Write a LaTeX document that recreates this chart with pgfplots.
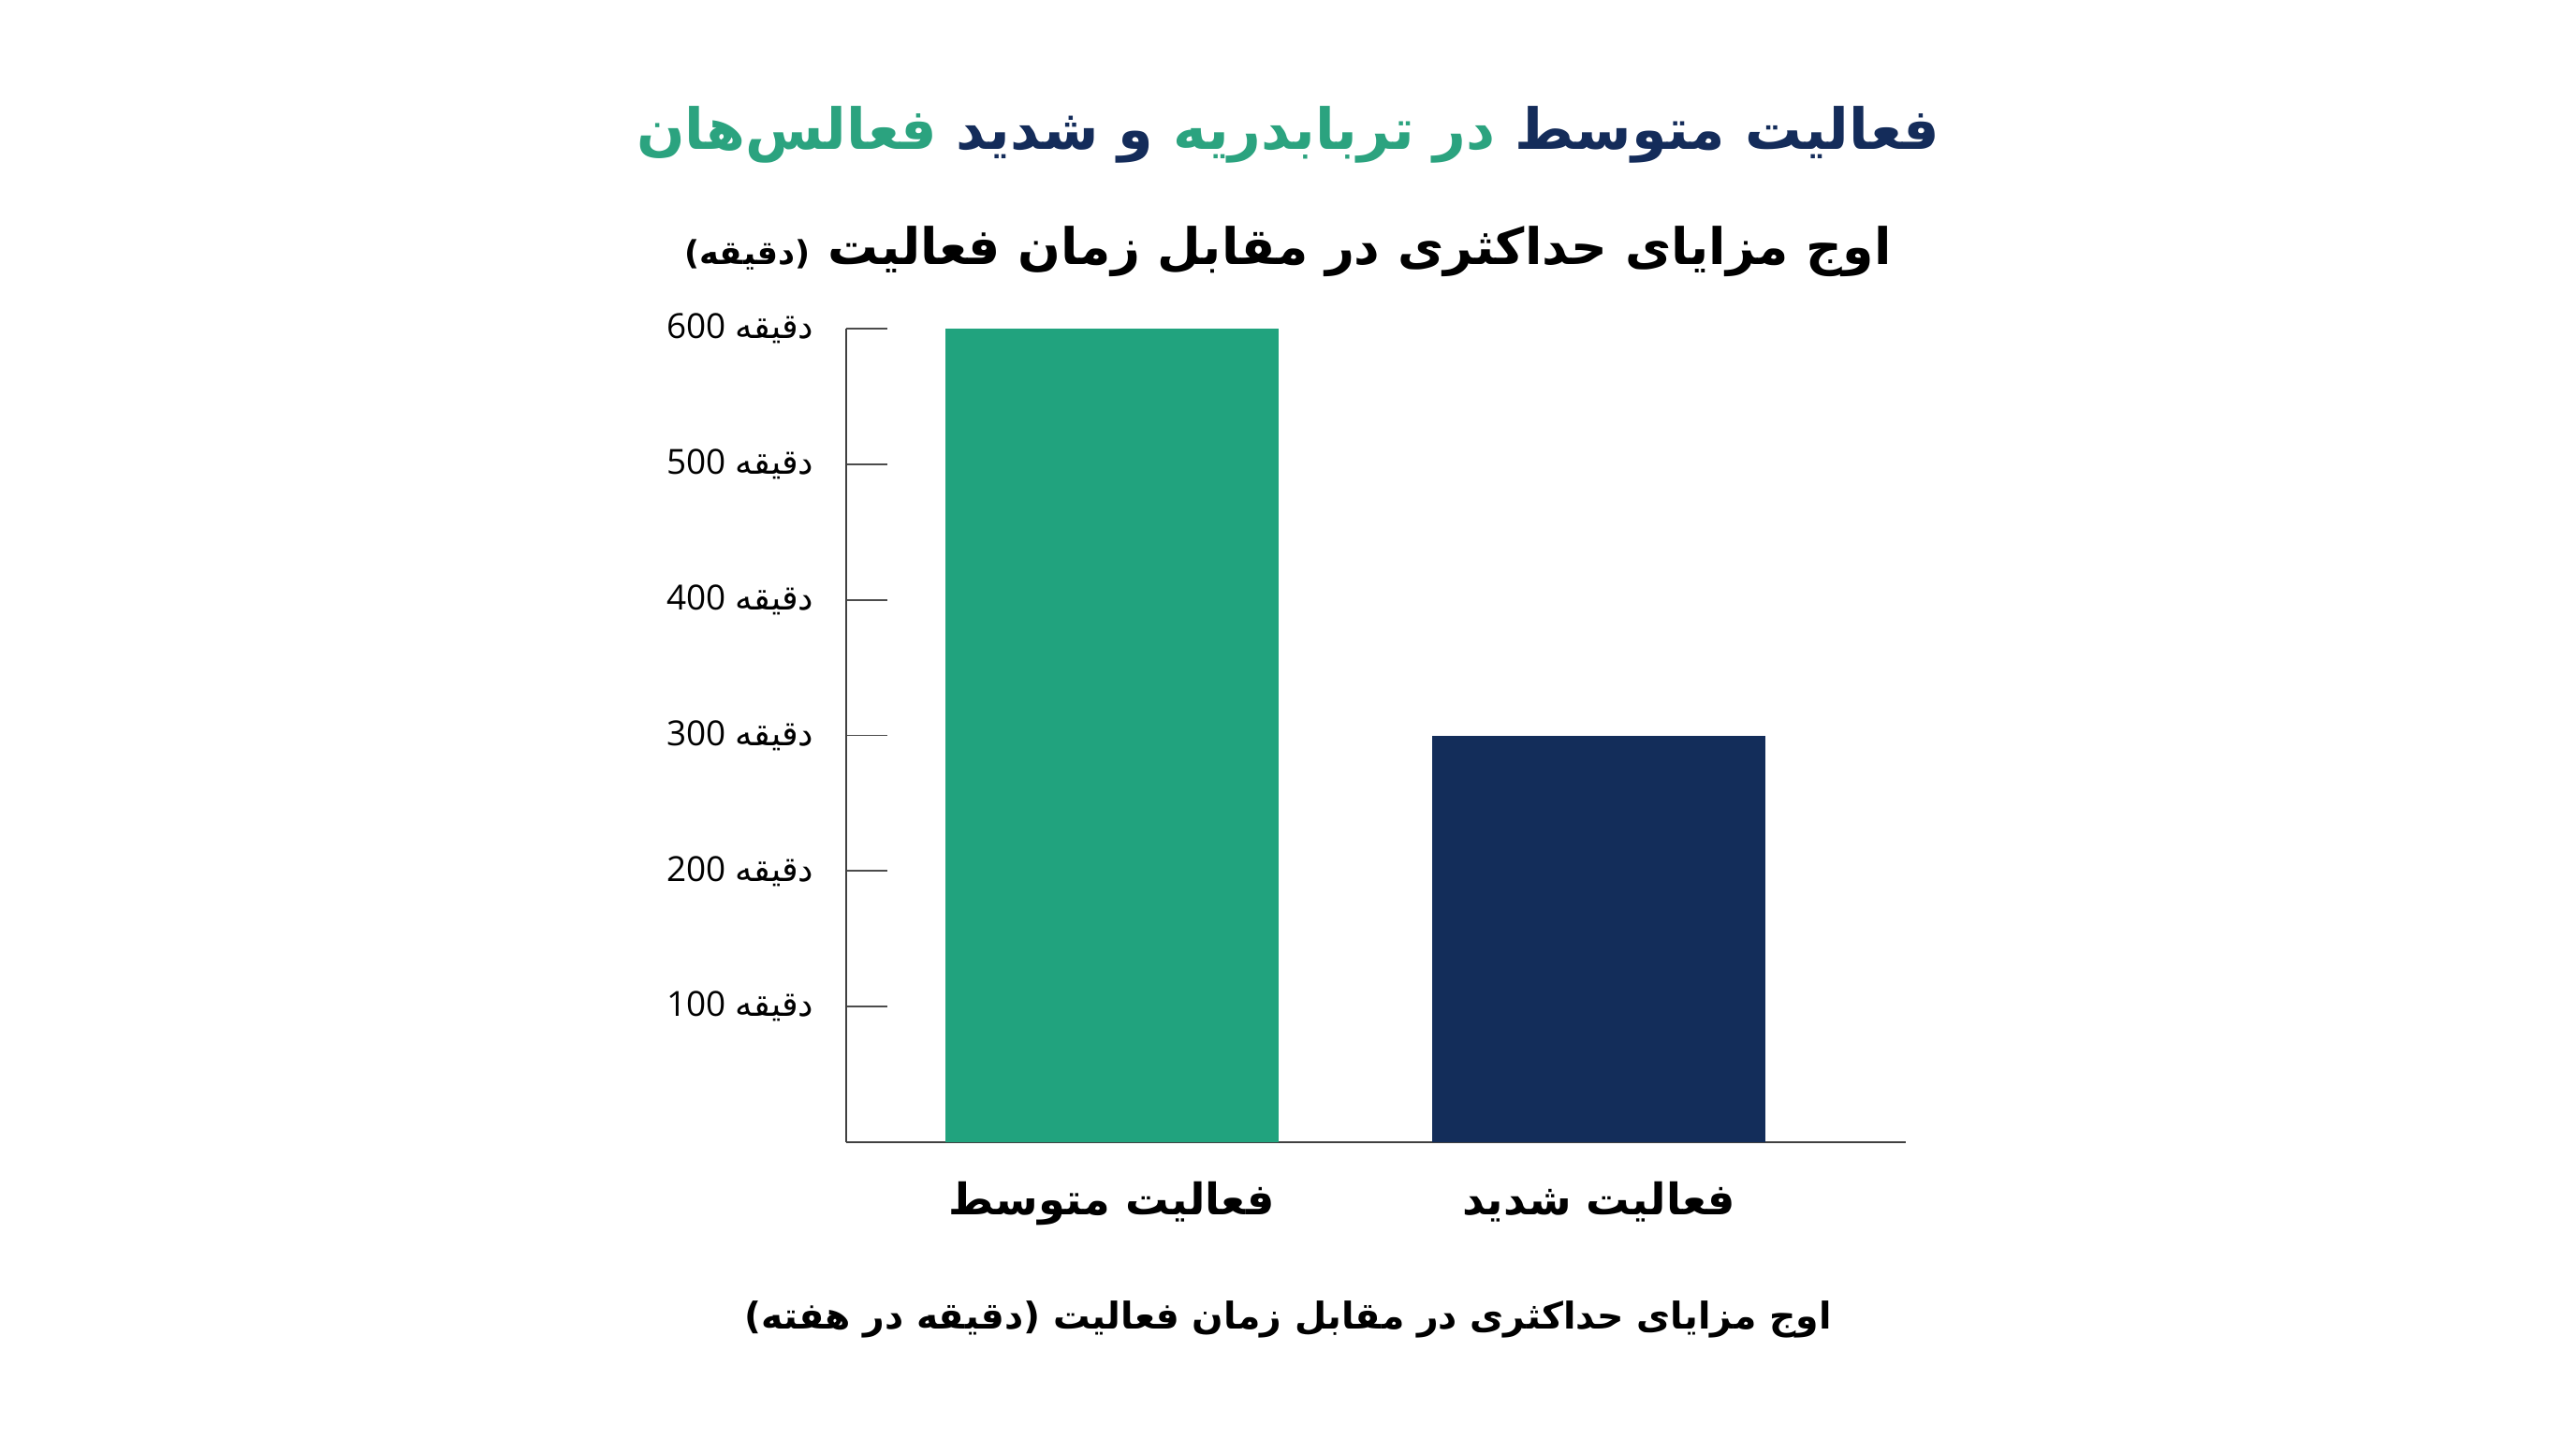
\documentclass[border=0pt]{standalone}
\usepackage{pgfplots}
\pgfplotsset{compat=1.18}
\usepackage{fontspec}
\setmainfont{Open Sans}
\newfontfamily\arabicfont[Script=Arabic]{DejaVu Sans}
\TeXXeTstate=1
\definecolor{barGreen}{HTML}{21A37E}
\definecolor{barNavy}{HTML}{132D5A}
\definecolor{titleGreen}{HTML}{2BA37F}
\definecolor{titleNavy}{HTML}{142C5A}

\begin{document}
\begin{tikzpicture}
\path[fill=white, use as bounding box] (0,0) rectangle (275.2mm,153.6mm);

% titles
\node[font=\arabicfont\bfseries\fontsize{17.2}{20}\selectfont] at (137.6mm,139.2mm)
  {\textcolor{titleGreen}{\beginR فعالس‌هان\endR}\ \textcolor{titleNavy}{\beginR و شدید\endR}\ \textcolor{titleGreen}{\beginR در تربابدریه\endR}\ \textcolor{titleNavy}{\beginR فعالیت متوسط\endR}};
\node[font=\arabicfont\bfseries\fontsize{15.3}{18}\selectfont] at (137.6mm,126.7mm)
  {{\fontsize{10}{12}\selectfont\hbox{)}دقیقه\hbox{(}}\ \beginR اوج مزایای حداکثری در مقابل زمان فعالیت\endR};

\begin{axis}[
    at={(90.4mm,31.6mm)}, anchor=south west,
    scale only axis,
    width=113.2mm, height=86.9mm,
    xmin=-0.545, xmax=1.63,
    ymin=0, ymax=600,
    axis lines*=left,
    axis line style={draw=black!75, line width=0.6pt, -},
    ytick={100,200,300,400,500,600},
    yticklabels={100 {\arabicfont دقیقه},200 {\arabicfont دقیقه},300 {\arabicfont دقیقه},400 {\arabicfont دقیقه},500 {\arabicfont دقیقه},600 {\arabicfont دقیقه}},
    yticklabel style={font=\fontsize{10.5}{12}\selectfont, inner sep=0pt, xshift=-3.4mm},
    tick align=inside,
    major tick length=4.4mm,
    y tick style={draw=black!70, line width=0.5pt},
    xtick={0,1},
    xticklabels={{\beginR فعالیت متوسط\endR},{\beginR فعالیت شدید\endR}},
    xticklabel style={font=\arabicfont\bfseries\fontsize{13.2}{16}\selectfont, inner sep=0pt, yshift=0.2mm},
    x tick style={draw=none},
    ybar, bar width=35.6mm, bar shift=0pt,
]
\addplot[fill=barGreen, draw=none] coordinates {(0,600)};
\addplot[fill=barNavy, draw=none] coordinates {(1,300)};
\end{axis}

\node[font=\arabicfont\bfseries\fontsize{11.2}{14}\selectfont] at (137.6mm,12.7mm)
  {\beginR اوج مزایای حداکثری در مقابل زمان فعالیت \hbox{(}دقیقه در هفته\hbox{)}\endR};
\end{tikzpicture}
\end{document}
